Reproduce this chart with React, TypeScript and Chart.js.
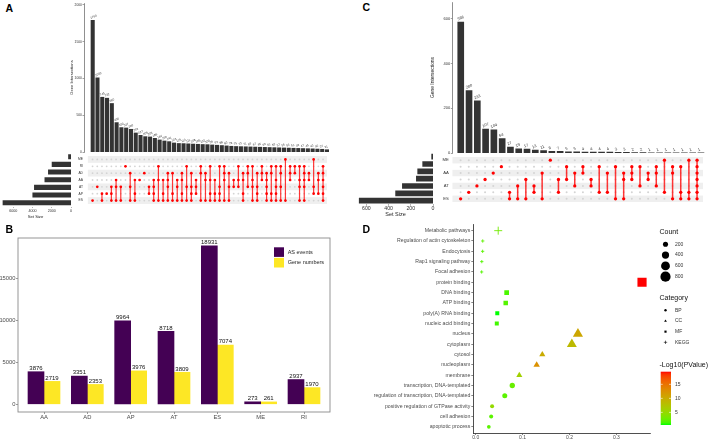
import React, { useEffect, useRef } from 'react';
import { Chart, registerables } from 'chart.js';

Chart.register(...registerables);

const FONT = '"Liberation Sans", Arial, Helvetica, sans-serif';
Chart.defaults.font.family = FONT;

// ================= Panel A : UpSet of genes by AS type =================
const setsA = ['ME', 'RI', 'AD', 'AA', 'AT', 'AP', 'ES']; // top -> bottom
const setSizesA = [261, 1970, 2353, 2719, 3809, 3976, 7074];
const intersectionsA = [
  1790, 1009, 745, 732, 660, 400, 332, 327, 309, 259,
  227, 209, 205, 186, 164, 150, 141, 123, 116, 114,
  111, 108, 105, 102, 100, 96, 92, 88, 83, 78,
  75, 73, 71, 69, 67, 65, 63, 61, 59, 57,
  55, 53, 51, 49, 47, 45, 43, 40, 37, 31,
];
const membersA = [
  ['ES'], ['AT'], ['AP', 'ES'], ['AP'], ['AT', 'AP', 'ES'],
  ['AA', 'AT', 'ES'], ['AT', 'ES'], ['RI'], ['AD', 'AT', 'ES'], ['AA', 'AP', 'ES'],
  ['AA'], ['AD'], ['AT', 'AP'], ['AA', 'AT', 'AP', 'ES'], ['RI', 'AA', 'ES'],
  ['AA', 'AP', 'ES'], ['AD', 'AA', 'AT', 'ES'], ['AD', 'AP', 'ES'], ['AA', 'AT', 'ES'], ['AD', 'AA', 'AP', 'ES'],
  ['RI', 'AT', 'ES'], ['AD', 'AT', 'AP', 'ES'], ['AA', 'AT', 'AP'], ['RI', 'AD', 'ES'], ['AD', 'AA', 'ES'],
  ['RI', 'AA', 'AP', 'ES'], ['AA', 'AP', 'ES'], ['RI', 'AT', 'AP', 'ES'], ['RI', 'AD', 'AA', 'ES'], ['AD', 'AT', 'ES'],
  ['AA', 'AT'], ['RI', 'AA', 'AT'], ['AD', 'AA', 'AP', 'ES'], ['RI', 'AD', 'AT'], ['RI', 'AA', 'AT', 'ES'],
  ['AD', 'AT', 'AP', 'ES'], ['RI', 'AD', 'AA'], ['AD', 'AA', 'AT', 'AP', 'ES'], ['RI', 'AD', 'AP', 'ES'], ['RI', 'AA', 'AT', 'AP', 'ES'],
  ['RI', 'AD', 'AT', 'ES'], ['ME', 'ES'], ['RI', 'AD', 'AA'], ['RI', 'AD'], ['RI', 'AA', 'AT', 'ES'],
  ['RI', 'AD', 'AA', 'AT', 'ES'], ['AD', 'AA'], ['ME', 'AT', 'AP'], ['AD', 'AA', 'AP'], ['RI', 'AD', 'AA', 'AT', 'AP', 'ES'],
];
const barTicksA = [0, 500, 1000, 1500, 2000];
const sizeTicksA = [0, 2000, 4000, 6000];

// ================= Panel B : AS events / gene numbers =================
const typesB = ['AA', 'AD', 'AP', 'AT', 'ES', 'ME', 'RI'];
const asEventsB = [3876, 3351, 9964, 8718, 18931, 273, 2937];
const geneNumbersB = [2719, 2353, 3976, 3809, 7074, 261, 1970];
const seriesNamesB = ['AS events', 'Gene numbers'];
const yTicksB = [0, 5000, 10000, 15000];

// ================= Panel C : UpSet =================
const setsC = ['ME', 'RI', 'AA', 'AD', 'AT', 'AP', 'ES']; // top -> bottom
const setSizesC = [12, 93, 138, 150, 276, 337, 665];
const intersectionsC = [586, 280, 233, 107, 104, 64, 27, 19, 17, 13, 11, 8, 7, 5, 5, 4, 4, 4, 4, 3, 3, 2, 2, 1, 1, 1, 1, 1, 1, 1];
const membersC = [
  ['ES'], ['AP'], ['AT'], ['AD'], ['AA'], ['RI'], ['AP', 'ES'], ['AT', 'ES'], ['AD', 'ES'], ['AT', 'AP'],
  ['AA', 'ES'], ['ME'], ['AD', 'AP'], ['RI', 'AD'], ['AA', 'AT'], ['RI', 'AA'], ['AD', 'AT'], ['RI', 'AP'], ['AA', 'AP'], ['RI', 'ES'],
  ['AA', 'AD', 'ES'], ['RI', 'AA', 'AD'], ['RI', 'AT'], ['AA', 'AD'], ['RI', 'AA', 'AT'], ['ME', 'AP'], ['RI', 'AA', 'ES'], ['RI', 'AP', 'ES'], ['ME', 'AP', 'ES'], ['ME', 'RI', 'AA', 'AD', 'AT', 'AP', 'ES'],
];
const barTicksC = [0, 200, 400, 600];
const sizeTicksC = [0, 200, 400, 600];

// ================= Panel D : enrichment bubble plot =================
const termsD = [
  'Metabolic pathways', 'Regulation of actin cytoskeleton', 'Endocytosis', 'Rap1 signaling pathway', 'Focal adhesion',
  'protein binding', 'DNA binding', 'ATP binding', 'poly(A) RNA binding', 'nucleic acid binding',
  'nucleus', 'cytoplasm', 'cytosol', 'nucleoplasm', 'membrane',
  'transcription, DNA-templated', 'regulation of transcription, DNA-templated', 'positive regulation of GTPase activity', 'cell adhesion', 'apoptotic process',
];
const ratioD = [0.048, 0.015, 0.0148, 0.013, 0.0127, 0.3546, 0.066, 0.064, 0.046, 0.045, 0.218, 0.205, 0.142, 0.130, 0.093, 0.078, 0.062, 0.035, 0.033, 0.028];
const countD = [610, 104, 104, 100, 100, 800, 210, 193, 152, 152, 540, 520, 200, 220, 195, 217, 193, 123, 123, 106];
const categoryD = ['KEGG', 'KEGG', 'KEGG', 'KEGG', 'KEGG', 'MF', 'MF', 'MF', 'MF', 'MF', 'CC', 'CC', 'CC', 'CC', 'CC', 'BP', 'BP', 'BP', 'BP', 'BP'];
const logPD = [3, 2.2, 2, 1.8, 1.8, 19.5, 1.5, 1.8, 0.5, 1.3, 10.5, 8.5, 10, 12.5, 6, 2.5, 2, 5, 2, 2];
const xTicksD = [0, 0.1, 0.2, 0.3];
const countBreaksD = [200, 400, 600, 800];
const categoryKeysD = ['BP', 'CC', 'MF', 'KEGG'];
const pBreaksD = [5, 10, 15];

// ================= styles =================
const BAR_GREY = '#333333';
const MATRIX_RED = '#ff0000';
const LINE_RED = 'rgba(255,20,20,0.85)';
const MATRIX_GREY = '#d4d4d4';
const STRIPE = '#efefef';
const PURPLE = '#440154';
const YELLOW = '#FDE725';

// ---------- helpers ----------
const setTicks = (vals: number[]) => (scale: any) => {
  scale.ticks = vals.map((v) => ({ value: v }));
};
const plain = (v: any) => String(v);
const fit = (w?: number, h?: number) => (s: any) => {
  if (w !== undefined) s.width = w;
  if (h !== undefined) s.height = h;
  s.paddingTop = 0;
  s.paddingBottom = 0;
  s.paddingLeft = 0;
  s.paddingRight = 0;
};
const common = () => ({
  animation: false as const,
  responsive: false,
  maintainAspectRatio: false,
  events: [] as any[],
  plugins: { legend: { display: false }, tooltip: { enabled: false } },
});

// Lab colour interpolation (like ggplot's gradient)
function toLin(c: number) {
  c /= 255;
  return c <= 0.04045 ? c / 12.92 : Math.pow((c + 0.055) / 1.055, 2.4);
}
function fromLin(c: number) {
  const v = c <= 0.0031308 ? 12.92 * c : 1.055 * Math.pow(c, 1 / 2.4) - 0.055;
  return Math.round(Math.max(0, Math.min(1, v)) * 255);
}
function rgbToLab(rgb: number[]) {
  const [R, G, B] = rgb.map(toLin);
  const X = (0.4124 * R + 0.3576 * G + 0.1805 * B) / 0.95047;
  const Y = 0.2126 * R + 0.7152 * G + 0.0722 * B;
  const Z = (0.0193 * R + 0.1192 * G + 0.9505 * B) / 1.08883;
  const f = (t: number) => (t > 0.008856 ? Math.cbrt(t) : 7.787 * t + 16 / 116);
  const fx = f(X), fy = f(Y), fz = f(Z);
  return [116 * fy - 16, 500 * (fx - fy), 200 * (fy - fz)];
}
function labToRgb(lab: number[]) {
  const [L, a, b] = lab;
  const fy = (L + 16) / 116, fx = fy + a / 500, fz = fy - b / 200;
  const inv = (t: number) => (t * t * t > 0.008856 ? t * t * t : (t - 16 / 116) / 7.787);
  const X = inv(fx) * 0.95047, Y = inv(fy), Z = inv(fz) * 1.08883;
  const R = 3.2406 * X - 1.5372 * Y - 0.4986 * Z;
  const G = -0.9689 * X + 1.8758 * Y + 0.0415 * Z;
  const B = 0.0557 * X - 0.204 * Y + 1.057 * Z;
  return [fromLin(R), fromLin(G), fromLin(B)];
}
const LAB_LOW = rgbToLab([0, 255, 0]);
const LAB_HIGH = rgbToLab([255, 0, 0]);
function gradColor(t: number) {
  const tt = Math.max(0, Math.min(1, t));
  const lab = LAB_LOW.map((v, i) => v + (LAB_HIGH[i] - v) * tt);
  const [r, g, b] = labToRgb(lab);
  return `rgb(${r},${g},${b})`;
}
const pMin = Math.min(...logPD);
const pMax = Math.max(...logPD);
const colorD = (p: number) => gradColor((p - pMin) / (pMax - pMin));
const dotSize = (count: number) => 0.36 * Math.sqrt(count); // diameter in px
const radiusD = (cat: string, count: number) => {
  const d = dotSize(count);
  if (cat === 'BP') return d / 2;
  if (cat === 'CC') return 0.7 * d;
  if (cat === 'MF') return 0.636 * d;
  return 0.45 * d;
};
const styleD: Record<string, string> = { BP: 'circle', CC: 'triangle', MF: 'rect', KEGG: 'cross' };

// ---------- plugins ----------
const upsetNumbers = (size: number, angle: number) => ({
  id: 'upsetNumbers',
  afterDatasetsDraw(chart: any) {
    const ctx = chart.ctx;
    const ds = chart.data.datasets[0];
    chart.getDatasetMeta(0).data.forEach((el: any, i: number) => {
      ctx.save();
      ctx.translate(el.x - size * 0.55, el.y - 0.8);
      ctx.rotate(angle);
      ctx.font = `${size}px ${FONT}`;
      ctx.fillStyle = '#333';
      ctx.textAlign = 'left';
      ctx.textBaseline = 'bottom';
      ctx.fillText(String(ds.data[i].y), 0, 0);
      ctx.restore();
    });
  },
});

const stripesPlugin = {
  id: 'stripes',
  beforeDatasetsDraw(chart: any) {
    const { ctx, chartArea, scales } = chart;
    const x0 = scales.x.getPixelForValue(-1);
    ctx.save();
    ctx.fillStyle = STRIPE;
    for (let r = 0; r < 7; r += 2) {
      const t = scales.y.getPixelForValue(r + 0.5);
      const b = scales.y.getPixelForValue(r - 0.5);
      ctx.fillRect(x0, t, chartArea.right - x0, b - t);
    }
    ctx.restore();
  },
};

const panelBorder = {
  id: 'panelBorder',
  afterDraw(chart: any) {
    const { ctx, chartArea: a } = chart;
    ctx.save();
    ctx.strokeStyle = '#8a8a8a';
    ctx.lineWidth = 0.9;
    ctx.strokeRect(a.left, a.top, a.right - a.left, a.bottom - a.top);
    ctx.restore();
  },
};

const barValuesB = {
  id: 'barValuesB',
  afterDatasetsDraw(chart: any) {
    const ctx = chart.ctx;
    ctx.save();
    ctx.font = `6px ${FONT}`;
    ctx.fillStyle = '#111';
    ctx.textAlign = 'center';
    ctx.textBaseline = 'bottom';
    chart.data.datasets.forEach((ds: any, di: number) => {
      chart.getDatasetMeta(di).data.forEach((el: any, i: number) => {
        ctx.fillText(String(ds.data[i].y), el.x, el.y - 0.3);
      });
    });
    ctx.restore();
  },
};

const legendB = {
  id: 'legendB',
  afterDraw(chart: any) {
    const ctx = chart.ctx;
    ctx.save();
    ctx.translate(0, -225);
    const cols = [PURPLE, YELLOW];
    seriesNamesB.forEach((name, i) => {
      const y = 247.3 + i * 10.6;
      ctx.fillStyle = cols[i];
      ctx.fillRect(274, y, 10, 9.6);
      ctx.font = `5.5px ${FONT}`;
      ctx.fillStyle = '#222';
      ctx.textAlign = 'left';
      ctx.textBaseline = 'middle';
      ctx.fillText(name, 287.7, y + 4.9);
    });
    ctx.restore();
  },
};

function drawKey(ctx: any, cat: string, x: number, y: number, s: number) {
  ctx.beginPath();
  if (cat === 'BP') {
    ctx.arc(x, y, s, 0, Math.PI * 2);
    ctx.fill();
  } else if (cat === 'CC') {
    ctx.moveTo(x, y - s * 1.3);
    ctx.lineTo(x + s * 1.15, y + s * 0.7);
    ctx.lineTo(x - s * 1.15, y + s * 0.7);
    ctx.closePath();
    ctx.fill();
  } else if (cat === 'MF') {
    ctx.rect(x - s * 0.9, y - s * 0.9, s * 1.8, s * 1.8);
    ctx.fill();
  } else {
    ctx.moveTo(x - s * 1.4, y);
    ctx.lineTo(x + s * 1.4, y);
    ctx.moveTo(x, y - s * 1.4);
    ctx.lineTo(x, y + s * 1.4);
    ctx.lineWidth = 0.6;
    ctx.stroke();
  }
}

const legendD = {
  id: 'legendD',
  afterDraw(chart: any) {
    const ctx = chart.ctx;
    ctx.save();
    ctx.translate(-360, -218);
    const txt = (s: string, x: number, y: number, size: number, color = '#222') => {
      ctx.font = `${size}px ${FONT}`;
      ctx.fillStyle = color;
      ctx.textAlign = 'left';
      ctx.textBaseline = 'middle';
      ctx.fillText(s, x, y);
    };
    txt('Count', 659.5, 231.7, 7, '#111');
    countBreaksD.forEach((c, i) => {
      const y = 244.3 + i * 10.8;
      ctx.fillStyle = '#000';
      ctx.beginPath();
      ctx.arc(665.5, y, dotSize(c) / 2, 0, Math.PI * 2);
      ctx.fill();
      txt(String(c), 675, y, 5, '#333');
    });
    txt('Category', 659.5, 297.7, 7, '#111');
    categoryKeysD.forEach((k, i) => {
      const y = 310.3 + i * 10.67;
      ctx.fillStyle = '#000';
      ctx.strokeStyle = '#000';
      drawKey(ctx, k, 665.5, y, 1.2);
      txt(k, 675, y, 5, '#333');
    });
    txt('-Log10(PValue)', 659.5, 365, 7, '#111');
    const top = 371.7, bot = 425, left = 660.7, w = 10.3;
    const g = ctx.createLinearGradient(0, bot, 0, top);
    for (let k = 0; k <= 24; k++) g.addColorStop(k / 24, gradColor(k / 24));
    ctx.fillStyle = g;
    ctx.fillRect(left, top, w, bot - top);
    pBreaksD.forEach((v) => {
      const y = bot - ((v - pMin) / (pMax - pMin)) * (bot - top);
      ctx.strokeStyle = '#fff';
      ctx.lineWidth = 0.6;
      ctx.beginPath();
      ctx.moveTo(left, y);
      ctx.lineTo(left + 2, y);
      ctx.moveTo(left + w - 2, y);
      ctx.lineTo(left + w, y);
      ctx.stroke();
      txt(String(v), 675, y, 5, '#333');
    });
    ctx.restore();
  },
};

// ---------- config builders ----------
function upsetBarsConfig(values: number[], o: any) {
  return {
    type: 'bar',
    data: { datasets: [{ data: values.map((v, i) => ({ x: i, y: v })), backgroundColor: BAR_GREY, barThickness: o.barThickness }] },
    options: {
      ...common(),
      layout: { padding: { top: o.padTop, bottom: o.padBottom, left: 0, right: 0 } },
      scales: {
        x: { type: 'linear', display: false, offset: false, bounds: 'data', min: o.xMin, max: o.xMax, grid: { offset: false } },
        y: {
          type: 'linear', bounds: 'data', min: 0, max: o.yMax,
          afterBuildTicks: setTicks(o.yTicks), afterFit: fit(o.axisWidth),
          ticks: { font: { size: o.tickFont }, color: '#333', padding: 0.6, callback: plain },
          grid: { drawOnChartArea: false, drawTicks: true, tickLength: 1.5, color: '#444', lineWidth: 0.5 },
          border: { display: true, color: '#444', width: 0.6 },
          title: { display: true, text: 'Gene Intersections', font: { size: o.titleFont }, color: '#222', padding: { top: o.titlePad, bottom: 0 } },
        },
      },
    },
    plugins: [upsetNumbers(o.labelFont, -0.4)],
  };
}

function matrixConfig(sets: string[], members: string[][], o: any) {
  const n = sets.length;
  const yOf = (s: string) => n - 1 - sets.indexOf(s);
  const grey: any[] = [];
  const red: any[] = [];
  const lines: any[] = [];
  members.forEach((m, i) => {
    sets.forEach((s) => (m.includes(s) ? red : grey).push({ x: i, y: yOf(s) }));
    if (m.length > 1) {
      const ys = m.map(yOf);
      lines.push({
        data: [{ x: i, y: Math.min(...ys) }, { x: i, y: Math.max(...ys) }],
        showLine: true, borderColor: LINE_RED, borderWidth: o.lineW, pointRadius: 0, fill: false,
      });
    }
  });
  return {
    type: 'scatter',
    data: {
      datasets: [
        { data: red, pointRadius: o.redR, backgroundColor: MATRIX_RED, borderWidth: 0 },
        ...lines,
        { data: grey, pointRadius: o.greyR, backgroundColor: MATRIX_GREY, borderWidth: 0 },
      ],
    },
    options: {
      ...common(),
      layout: { padding: { top: o.padTop, bottom: o.padBottom, left: 0, right: 0 } },
      scales: {
        x: { type: 'linear', display: false, bounds: 'data', min: o.xMin, max: o.xMax },
        y: {
          type: 'linear', bounds: 'data', min: -0.5, max: n - 0.5,
          afterBuildTicks: setTicks(sets.map((_, i) => i)), afterFit: fit(o.axisWidth),
          ticks: { font: { size: o.labelFont }, color: '#333', padding: o.labelPad, callback: (v: any) => sets[n - 1 - Number(v)] },
          grid: { display: false, drawTicks: false },
          border: { display: false },
        },
      },
    },
    plugins: [stripesPlugin],
  };
}

function setSizeConfig(sets: string[], sizes: number[], o: any) {
  return {
    type: 'bar',
    data: { labels: sets, datasets: [{ data: sizes, backgroundColor: BAR_GREY, barThickness: o.barThickness }] },
    options: {
      ...common(),
      indexAxis: 'y',
      layout: { padding: { top: o.padTop, right: o.padRight, left: 0, bottom: 0 } },
      scales: {
        y: { type: 'category', display: false },
        x: {
          type: 'linear', bounds: 'data', reverse: true, min: 0, max: o.max,
          afterBuildTicks: setTicks(o.ticks), afterFit: fit(undefined, o.axisHeight),
          ticks: { font: { size: o.tickFont }, color: '#333', padding: o.tickPad, maxRotation: 0, autoSkip: false, callback: plain },
          grid: { drawOnChartArea: false, tickLength: 1.5, color: '#666', lineWidth: 0.5 },
          border: { display: false },
          title: { display: true, text: 'Set Size', font: { size: o.titleFont }, color: '#222', padding: { top: 0, bottom: o.titlePad } },
        },
      },
    },
  };
}

function configB() {
  return {
    type: 'bar',
    data: {
      datasets: [
        { label: seriesNamesB[0], data: asEventsB.map((v, i) => ({ x: i + 1, y: v })), backgroundColor: PURPLE, barThickness: 16 },
        { label: seriesNamesB[1], data: geneNumbersB.map((v, i) => ({ x: i + 1, y: v })), backgroundColor: YELLOW, barThickness: 16 },
      ],
    },
    options: {
      ...common(),
      layout: { padding: { top: 13, right: 5, left: 0, bottom: 0 } },
      scales: {
        x: {
          type: 'linear', bounds: 'data', offset: false, min: 0.4, max: 7.6,
          afterBuildTicks: setTicks(typesB.map((_, i) => i + 1)), afterFit: fit(undefined, 13),
          ticks: { font: { size: 5.8 }, color: '#4d4d4d', padding: 0, maxRotation: 0, autoSkip: false, callback: (v: any) => typesB[Number(v) - 1] },
          grid: { drawOnChartArea: false, offset: false, tickLength: 2, color: '#555', lineWidth: 0.6 },
          border: { display: false },
        },
        y: {
          type: 'linear', bounds: 'data', min: -946, max: 19877,
          afterBuildTicks: setTicks(yTicksB), afterFit: fit(18),
          ticks: { font: { size: 5.8 }, color: '#4d4d4d', padding: 0.5, callback: plain },
          grid: { drawOnChartArea: false, tickLength: 2, color: '#555', lineWidth: 0.6 },
          border: { display: false },
        },
      },
    },
    plugins: [panelBorder, barValuesB, legendB],
  };
}

function configD() {
  const n = termsD.length;
  const cols = logPD.map(colorD);
  return {
    type: 'scatter',
    data: {
      datasets: [
        {
          data: ratioD.map((r, i) => ({ x: r, y: n - 1 - i })),
          pointStyle: categoryD.map((c) => styleD[c]),
          pointRadius: categoryD.map((c, i) => radiusD(c, countD[i])),
          backgroundColor: cols,
          borderColor: cols,
          borderWidth: categoryD.map((c) => (c === 'KEGG' ? 0.9 : 0)),
        },
      ],
    },
    options: {
      ...common(),
      layout: { padding: { top: 3.4, right: 59, left: 0, bottom: 0 } },
      scales: {
        x: {
          type: 'linear', bounds: 'data', min: -0.0051, max: 0.3716,
          afterBuildTicks: setTicks(xTicksD), afterFit: fit(undefined, 7),
          ticks: { font: { size: 5 }, color: '#4d4d4d', padding: 0, maxRotation: 0, autoSkip: false, callback: (v: any) => Number(v).toFixed(1) },
          grid: { drawOnChartArea: false, tickLength: 2, color: '#333', lineWidth: 0.6 },
          border: { display: true, color: '#222', width: 0.8 },
        },
        y: {
          type: 'linear', bounds: 'data', min: -0.6, max: n - 1 + 0.6,
          afterBuildTicks: setTicks(termsD.map((_, i) => i)), afterFit: fit(113.3),
          ticks: { font: { size: 5.2 }, color: '#4d4d4d', padding: 1, autoSkip: false, callback: (v: any) => termsD[n - 1 - Number(v)] },
          grid: { drawOnChartArea: false, tickLength: 2, color: '#333', lineWidth: 0.6 },
          border: { display: true, color: '#222', width: 0.8 },
        },
      },
    },
    plugins: [legendD],
  };
}

// ---------- components ----------
function ChartCanvas({ left, top, width, height, build }: { left: number; top: number; width: number; height: number; build: () => any }) {
  const ref = useRef<HTMLCanvasElement | null>(null);
  useEffect(() => {
    if (!ref.current) return;
    const chart = new Chart(ref.current, build());
    return () => chart.destroy();
  }, []);
  return <canvas ref={ref} width={width} height={height} style={{ position: 'absolute', left, top, width, height }} />;
}

const letter = (left: number, top: number): React.CSSProperties => ({
  position: 'absolute', left, top, fontFamily: FONT, fontWeight: 'bold', fontSize: 10.5, lineHeight: '10px', color: '#000',
});

export default function App() {
  return (
    <div style={{ position: 'absolute', left: 0, top: 0, width: 709, height: 440, background: '#fff', overflow: 'hidden' }}>
      {/* Panel A */}
      <ChartCanvas left={64} top={0} width={267} height={156} build={() => upsetBarsConfig(intersectionsA, {
        xMin: -1.82, xMax: 49.84, yMax: 2027, yTicks: barTicksA, axisWidth: 20, padTop: 3, padBottom: 4,
        barThickness: 3.4, tickFont: 3.3, titleFont: 4.1, titlePad: 5.5, labelFont: 3,
      })} />
      <ChartCanvas left={64} top={152} width={267} height={56} build={() => matrixConfig(setsA, membersA, {
        xMin: -1.82, xMax: 49.84, axisWidth: 20, padTop: 0.87, padBottom: 1.47, labelFont: 3.3, labelPad: 1,
        greyR: 0.9, redR: 1.35, lineW: 1.2,
      })} />
      <ChartCanvas left={0} top={152} width={74} height={68} build={() => setSizeConfig(setsA, setSizesA, {
        max: 7383, ticks: sizeTicksA, padTop: 0.87, padRight: 3, axisHeight: 13.47, barThickness: 4.4,
        tickFont: 3.7, tickPad: 0.75, titleFont: 4.2, titlePad: 0.5,
      })} />

      {/* Panel B */}
      <ChartCanvas left={0} top={225} width={335} height={200} build={configB} />

      {/* Panel C */}
      <ChartCanvas left={428} top={0} width={279} height={157} build={() => upsetBarsConfig(intersectionsC, {
        xMin: -1.02, xMax: 29.73, yMax: 676, yTicks: barTicksC, axisWidth: 24.3, padTop: 2, padBottom: 4,
        barThickness: 6, tickFont: 4, titleFont: 4.9, titlePad: 2, labelFont: 4,
      })} />
      <ChartCanvas left={428} top={153} width={279} height={53} build={() => matrixConfig(setsC, membersC, {
        xMin: -1.02, xMax: 29.73, axisWidth: 24.3, padTop: 0, padBottom: 1.63, labelFont: 4.2, labelPad: 3.5,
        greyR: 1, redR: 1.65, lineW: 1.5,
      })} />
      <ChartCanvas left={358} top={153} width={80} height={65} build={() => setSizeConfig(setsC, setSizesC, {
        max: 676, ticks: sizeTicksC, padTop: 0, padRight: 5, axisHeight: 13.63, barThickness: 5,
        tickFont: 5.2, tickPad: 0, titleFont: 5.5, titlePad: 0,
      })} />

      {/* Panel D */}
      <ChartCanvas left={360} top={218} width={349} height={222} build={configD} />

      <div style={letter(5.5, 2.7)}>A</div>
      <div style={letter(5.5, 223.7)}>B</div>
      <div style={letter(362.5, 1.7)}>C</div>
      <div style={letter(362.5, 223.7)}>D</div>
    </div>
  );
}
